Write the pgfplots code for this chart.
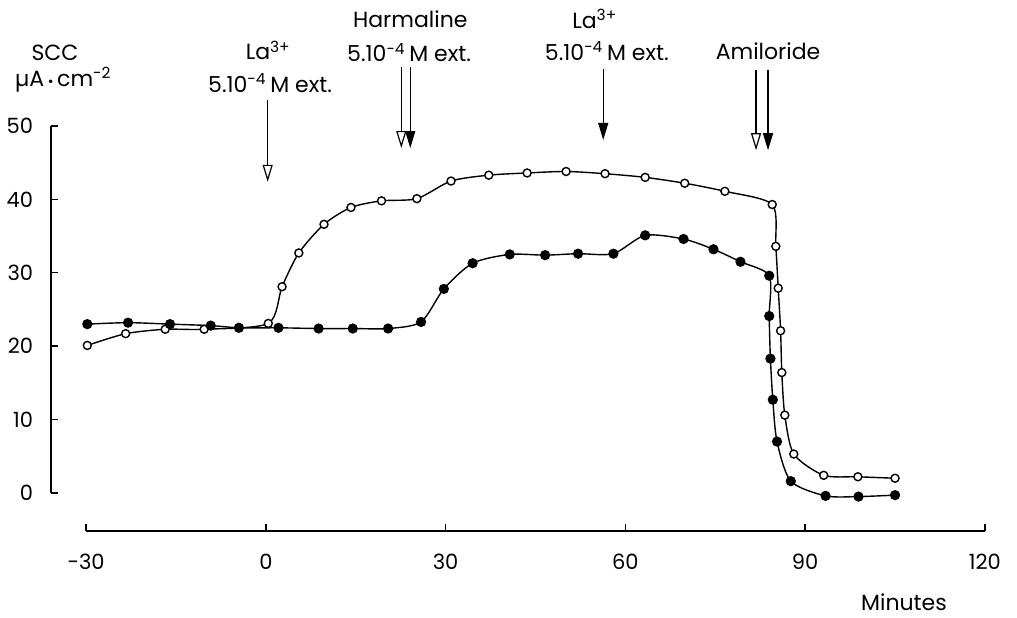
\documentclass[border=0pt]{standalone}
\usepackage{pgfplots}
\pgfplotsset{compat=1.18}
\usepackage{pgfplotstable}
\usepackage{fontspec}
\setmainfont{Poppins}
\usetikzlibrary{arrows.meta}

% open circles
\pgfplotstableread{
x y
-29.8 20.1
-23.4 21.7
-16.8 22.3
-10.3 22.3
0.4 23.1
2.7 28.1
5.5 32.7
9.7 36.6
14.2 38.9
19.3 39.8
25.2 40.1
30.9 42.5
37.2 43.3
43.6 43.6
50.1 43.8
56.6 43.5
63.3 43.0
69.9 42.2
76.6 41.1
84.5 39.3
85.1 33.6
85.5 27.9
85.9 22.1
86.1 16.4
86.6 10.6
88.1 5.3
93.1 2.4
98.8 2.2
105.0 2.0
}\opendata

% filled circles
\pgfplotstableread{
x y
-29.8 23.0
-23.0 23.2
-16.0 23.0
-9.2 22.8
-4.5 22.5
2.1 22.5
8.8 22.4
14.5 22.4
20.4 22.4
25.9 23.3
29.7 27.8
34.5 31.3
40.7 32.5
46.6 32.4
52.1 32.6
58.0 32.6
63.3 35.1
69.7 34.6
74.7 33.2
79.2 31.5
84.0 29.6
84.0 24.1
84.2 18.3
84.6 12.7
85.3 7.0
87.6 1.6
93.4 -0.4
98.9 -0.5
105.0 -0.3
}\filleddata

\begin{document}
\begin{tikzpicture}[font=\fontsize{10.5}{12}\selectfont]
\begin{axis}[
  scale only axis, width=449.5pt, height=183.5pt,
  xmin=-30, xmax=120, ymin=0, ymax=50,
  axis x line*=bottom, axis y line*=left, separate axis lines,
  axis x line shift=19pt, axis y line shift=17.5pt,
  axis line style={line width=0.9pt},
  xtick={-30,0,30,60,90,120}, ytick={0,10,20,30,40,50},
  tick align=inside, major tick length=3.5pt,
  tick style={line width=0.7pt, black},
  /pgf/number format/assume math mode=true,
  xticklabel style={yshift=-8pt},
  yticklabel style={xshift=-5.5pt},
  clip=false,
]
\addplot[black, line width=0.7pt, smooth, tension=0.45, mark=*, mark size=2pt,
  mark options={fill=white, line width=0.7pt}] table {\opendata};
\addplot[black, line width=0.7pt, smooth, tension=0.45, mark=*, mark size=2.2pt,
  mark options={fill=black}] table {\filleddata};

% arrows
\draw[line width=0.6pt, -{Triangle[open, length=8.5pt, width=5pt]}] (axis cs:0.3,53.6) -- (axis cs:0.3,42.4);
\draw[line width=0.6pt, -{Triangle[open, length=8.5pt, width=5pt]}] (axis cs:22.6,58.0) -- (axis cs:22.6,47.0);
\draw[line width=0.6pt, -{Triangle[length=8.5pt, width=5pt]}] (axis cs:24.1,58.0) -- (axis cs:24.1,47.0);
\draw[line width=0.6pt, -{Triangle[length=8.5pt, width=5pt]}] (axis cs:56.3,57.8) -- (axis cs:56.3,48.1);
\draw[line width=0.6pt, -{Triangle[open, length=8.5pt, width=5pt]}] (axis cs:81.8,57.6) -- (axis cs:81.8,46.7);
\draw[line width=0.6pt, -{Triangle[length=8.5pt, width=5pt]}] (axis cs:83.8,57.6) -- (axis cs:83.8,46.7);

% labels
\begin{scope}[every node/.style={font=\fontsize{11}{13}\selectfont}]
\node at (axis cs:-35.2,59.95) {SCC};
\node at (axis cs:-33.8,56.3) {µA\,{\scriptsize\textbullet}\,cm\textsuperscript{-2}};
\node at (axis cs:0.4,60.3) {La\textsuperscript{3+}};
\node at (axis cs:0.7,55.8) {5.10\textsuperscript{-4}\,M ext.};
\node at (axis cs:24.1,64.6) {Harmaline};
\node at (axis cs:23.9,60.0) {5.10\textsuperscript{-4}\,M ext.};
\node at (axis cs:54.9,64.6) {La\textsuperscript{3+}};
\node at (axis cs:56.9,60.2) {5.10\textsuperscript{-4}\,M ext.};
\node at (axis cs:83.8,60.2) {Amiloride};
\node at (axis cs:106.5,-14.85) {Minutes};
\end{scope}

\path (axis cs:-44.35,-16.35) rectangle (axis cs:125.35,67.17);
\end{axis}
\end{tikzpicture}
\end{document}
